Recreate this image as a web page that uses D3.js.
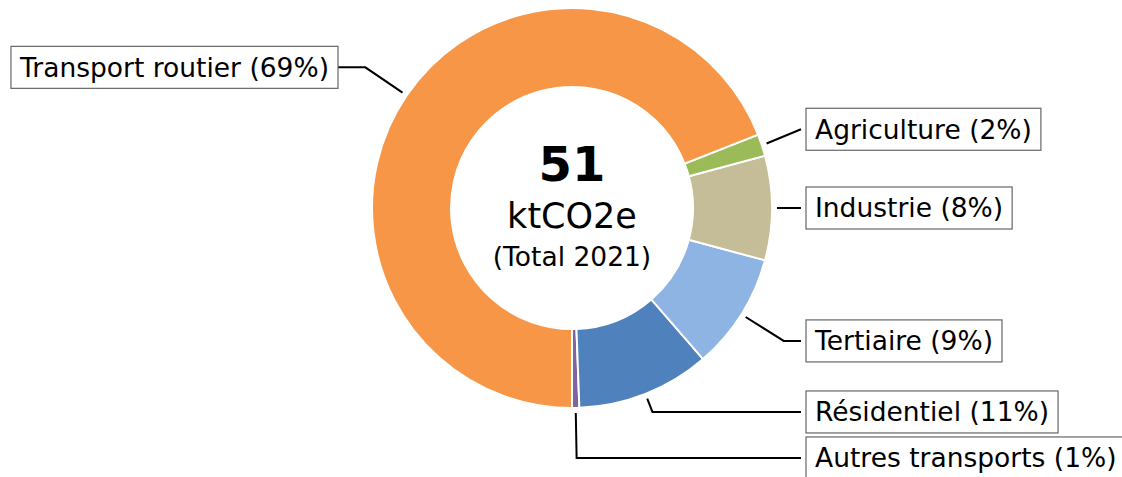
<!DOCTYPE html>
<html>
<head>
<meta charset="utf-8">
<script src="https://cdn.jsdelivr.net/npm/d3@7"></script>
<style>
  body { margin: 0; background: #fff; }
  svg { display: block; font-family: 'DejaVu Sans', sans-serif; }
</style>
</head>
<body>
<svg id="chart" width="1122" height="477"></svg>
<script>
// Emissions par secteur, ktCO2e (2021)
var sectors = ['Autres transports', 'Résidentiel', 'Tertiaire', 'Industrie', 'Agriculture', 'Transport routier'];
var values  = [0.3, 5.5, 4.8, 4.3, 0.9, 35.2];
var colors  = ['#8064A2', '#4F81BD', '#8EB4E3', '#C4BD97', '#9BBB59', '#F79646'];
var totalLabel = ['51', 'ktCO2e', '(Total 2021)'];

var W = 1122, H = 477;
var cx = 572, cy = 208, R = 200, r0 = 121;

var svg = d3.select('#chart');
var g = svg.append('g').attr('transform', 'translate(' + cx + ',' + cy + ')');

var total = d3.sum(values);
var data = sectors.map(function(s, i){ return {name: s, value: values[i], color: colors[i]}; });

// counterclockwise from the bottom, like the original
var pie = d3.pie()
    .sort(null)
    .value(function(d){ return d.value; })
    .startAngle(Math.PI)
    .endAngle(-Math.PI);

var arc = d3.arc().innerRadius(r0).outerRadius(R);
var arcs = pie(data);

g.selectAll('path.slice')
    .data(arcs)
  .enter().append('path')
    .attr('class', 'slice')
    .attr('d', arc)
    .attr('fill', function(d){ return d.data.color; })
    .attr('stroke', '#fff')
    .attr('stroke-width', 2);

//--------------------------------------------------------------
// Centre text

g.append('text')
    .attr('text-anchor', 'middle')
    .attr('y', -27)
    .style('font-size', '48px')
    .style('font-weight', 'bold')
    .text(totalLabel[0]);

g.append('text')
    .attr('text-anchor', 'middle')
    .attr('y', 20)
    .style('font-size', '35px')
    .text(totalLabel[1]);

g.append('text')
    .attr('text-anchor', 'middle')
    .attr('y', 58)
    .style('font-size', '26.5px')
    .text(totalLabel[2]);

//--------------------------------------------------------------
// Labels with leader lines

var tipR = 205, boxEdge = 234, minGap = 46;

var labels = arcs.map(function(a)
{
    var mid = (a.startAngle + a.endAngle) / 2;
    var pct = Math.round(100 * a.data.value / total);
    return {
        name: a.data.name + ' (' + pct + '%)',
        mid: mid,
        side: Math.sin(mid) >= 0 ? 1 : -1,
        y: -1.25 * R * Math.cos(mid)
    };
});

// push overlapping labels apart, bottom up
[1, -1].forEach(function(side)
{
    var ls = labels.filter(function(l){ return l.side == side; })
                   .sort(function(a, b){ return a.y - b.y; });
    for (var i = ls.length - 2; i >= 0; i--)
        ls[i].y = Math.min(ls[i].y, ls[i + 1].y - minGap);
});

labels.forEach(function(l)
{
    var sx = Math.sin(l.mid), sy = -Math.cos(l.mid);
    var tip = [tipR * sx, tipR * sy];
    var re = Math.abs(sy) > 0.05 ? l.y / sy : tipR;
    if (!isFinite(re) || re < tipR) re = tipR;
    var elbow = [re * sx, l.y];
    var endX = l.side * (boxEdge + (l.side > 0 ? -5 : 0));
    if (l.side > 0 && elbow[0] > endX) elbow[0] = endX;
    if (l.side < 0 && elbow[0] < endX) elbow[0] = endX;

    g.append('path')
        .attr('d', d3.line()([tip, elbow, [endX, l.y]]))
        .attr('fill', 'none')
        .attr('stroke', '#000')
        .attr('stroke-width', 2);

    var pad = 9;
    var lg = g.append('g');
    var rect = lg.append('rect');
    var t = lg.append('text')
        .attr('x', l.side > 0 ? boxEdge + pad : -boxEdge - pad)
        .attr('y', l.y)
        .attr('dy', '0.35em')
        .attr('text-anchor', l.side > 0 ? 'start' : 'end')
        .style('font-size', '26.5px')
        .text(l.name);

    var w = t.node().getComputedTextLength() + 2 * pad;
    rect.attr('x', l.side > 0 ? boxEdge : -boxEdge - w)
        .attr('y', l.y - 21)
        .attr('width', w)
        .attr('height', 42)
        .attr('fill', '#fff')
        .attr('stroke', '#666')
        .attr('stroke-width', 1.2);
});
</script>
</body>
</html>
